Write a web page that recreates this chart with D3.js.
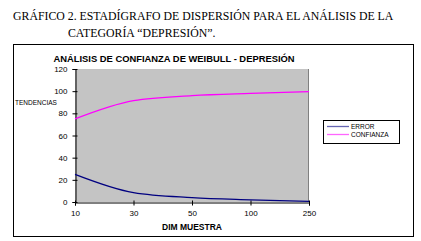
<!DOCTYPE html>
<html>
<head>
<meta charset="utf-8">
<script src="https://cdn.jsdelivr.net/npm/d3@7"></script>
<style>
  body { margin: 0; background: #fff; }
  svg { display: block; }
</style>
</head>
<body>
<div id="chart"></div>
<script>
// Data
const categories = ["10", "30", "50", "100", "250"];
const errorValues = [25, 8.5, 4, 2, 0.5];
const confianzaValues = [75, 91.5, 96, 98, 99.5];
const yTicks = [0, 20, 40, 60, 80, 100, 120];
const seriesNames = ["ERROR", "CONFIANZA"];
const seriesColors = ["#000080", "#ff00ff"];

const width = 421;
const height = 241;
const plot = { left: 75, right: 309, top: 69, bottom: 202 };

const svg = d3.select("#chart")
  .append("svg")
  .attr("width", width)
  .attr("height", height);

// Header text (document caption)
svg.append("text")
  .attr("x", 13).attr("y", 20)
  .attr("font-family", "Liberation Serif, Times New Roman, serif")
  .attr("font-size", 11.8)
  .text("GRÁFICO 2. ESTADÍGRAFO DE DISPERSIÓN PARA EL ANÁLISIS DE LA");

svg.append("text")
  .attr("x", 68).attr("y", 37)
  .attr("font-family", "Liberation Serif, Times New Roman, serif")
  .attr("font-size", 11.8)
  .text("CATEGORÍA “DEPRESIÓN”.");

// Chart frame
svg.append("rect")
  .attr("x", 13.5).attr("y", 44.5)
  .attr("width", 400).attr("height", 192)
  .attr("fill", "#fff")
  .attr("stroke", "#000")
  .attr("stroke-width", 1);

// Scales
const xScale = d3.scalePoint()
  .domain(categories)
  .range([plot.left, plot.right]);

const yScale = d3.scaleLinear()
  .domain([0, 120])
  .range([plot.bottom, plot.top]);

// Plot area
svg.append("rect")
  .attr("x", plot.left).attr("y", plot.top)
  .attr("width", plot.right - plot.left)
  .attr("height", plot.bottom - plot.top)
  .attr("fill", "#c4c4c4");

svg.append("line")
  .attr("x1", plot.right - 0.5).attr("x2", plot.right - 0.5)
  .attr("y1", plot.top).attr("y2", plot.bottom)
  .attr("stroke", "#808080");

// Title
svg.append("text")
  .attr("x", 174).attr("y", 62)
  .attr("text-anchor", "middle")
  .attr("font-family", "Liberation Sans, Arial, sans-serif")
  .attr("font-weight", "bold")
  .attr("font-size", 9.4)
  .text("ANÁLISIS DE CONFIANZA DE WEIBULL - DEPRESIÓN");

// Axes
const yAxis = d3.axisLeft(yScale).tickValues(yTicks).tickSize(3).tickPadding(5);
const gy = svg.append("g")
  .attr("transform", "translate(" + (plot.left + 0.5) + ",0)")
  .call(yAxis);
gy.selectAll(".tick line").attr("x1", -3).attr("x2", 2);

const xAxis = d3.axisBottom(xScale).tickSize(3).tickPadding(5);
const gx = svg.append("g")
  .attr("transform", "translate(0," + (plot.bottom + 0.5) + ")")
  .call(xAxis);
gx.selectAll(".tick line").attr("y1", -2).attr("y2", 3);

[gx, gy].forEach(g => {
  g.select(".domain").attr("stroke", "#000");
  g.selectAll(".tick text")
    .attr("font-family", "Liberation Sans, Arial, sans-serif")
    .attr("font-size", 8)
    .attr("fill", "#000");
});

svg.append("text")
  .attr("x", 15).attr("y", 105)
  .attr("font-family", "Liberation Sans, Arial, sans-serif")
  .attr("font-size", 6.5)
  .text("TENDENCIAS");

svg.append("text")
  .attr("x", 192).attr("y", 230)
  .attr("text-anchor", "middle")
  .attr("font-family", "Liberation Sans, Arial, sans-serif")
  .attr("font-weight", "bold")
  .attr("font-size", 8.5)
  .text("DIM MUESTRA");

// Lines
const line = d3.line()
  .x((d, i) => xScale(categories[i]))
  .y(d => yScale(d))
  .curve(d3.curveMonotoneX);

[errorValues, confianzaValues].forEach((vals, i) => {
  svg.append("path")
    .attr("d", line(vals))
    .attr("fill", "none")
    .attr("stroke", seriesColors[i])
    .attr("stroke-width", 1.3);
});

// Legend
const legend = svg.append("g");
legend.append("rect")
  .attr("x", 323.5).attr("y", 120.5)
  .attr("width", 76).attr("height", 23)
  .attr("fill", "#fff")
  .attr("stroke", "#000");

seriesNames.forEach((name, i) => {
  const y = 126.5 + i * 8;
  legend.append("line")
    .attr("x1", 327).attr("x2", 349)
    .attr("y1", y).attr("y2", y)
    .attr("stroke", seriesColors[i])
    .attr("stroke-opacity", 0.6)
    .attr("stroke-width", 1.3);
  legend.append("text")
    .attr("x", 351).attr("y", y + 2.5)
    .attr("font-family", "Liberation Sans, Arial, sans-serif")
    .attr("font-size", 6.5)
    .text(name);
});
</script>
</body>
</html>
